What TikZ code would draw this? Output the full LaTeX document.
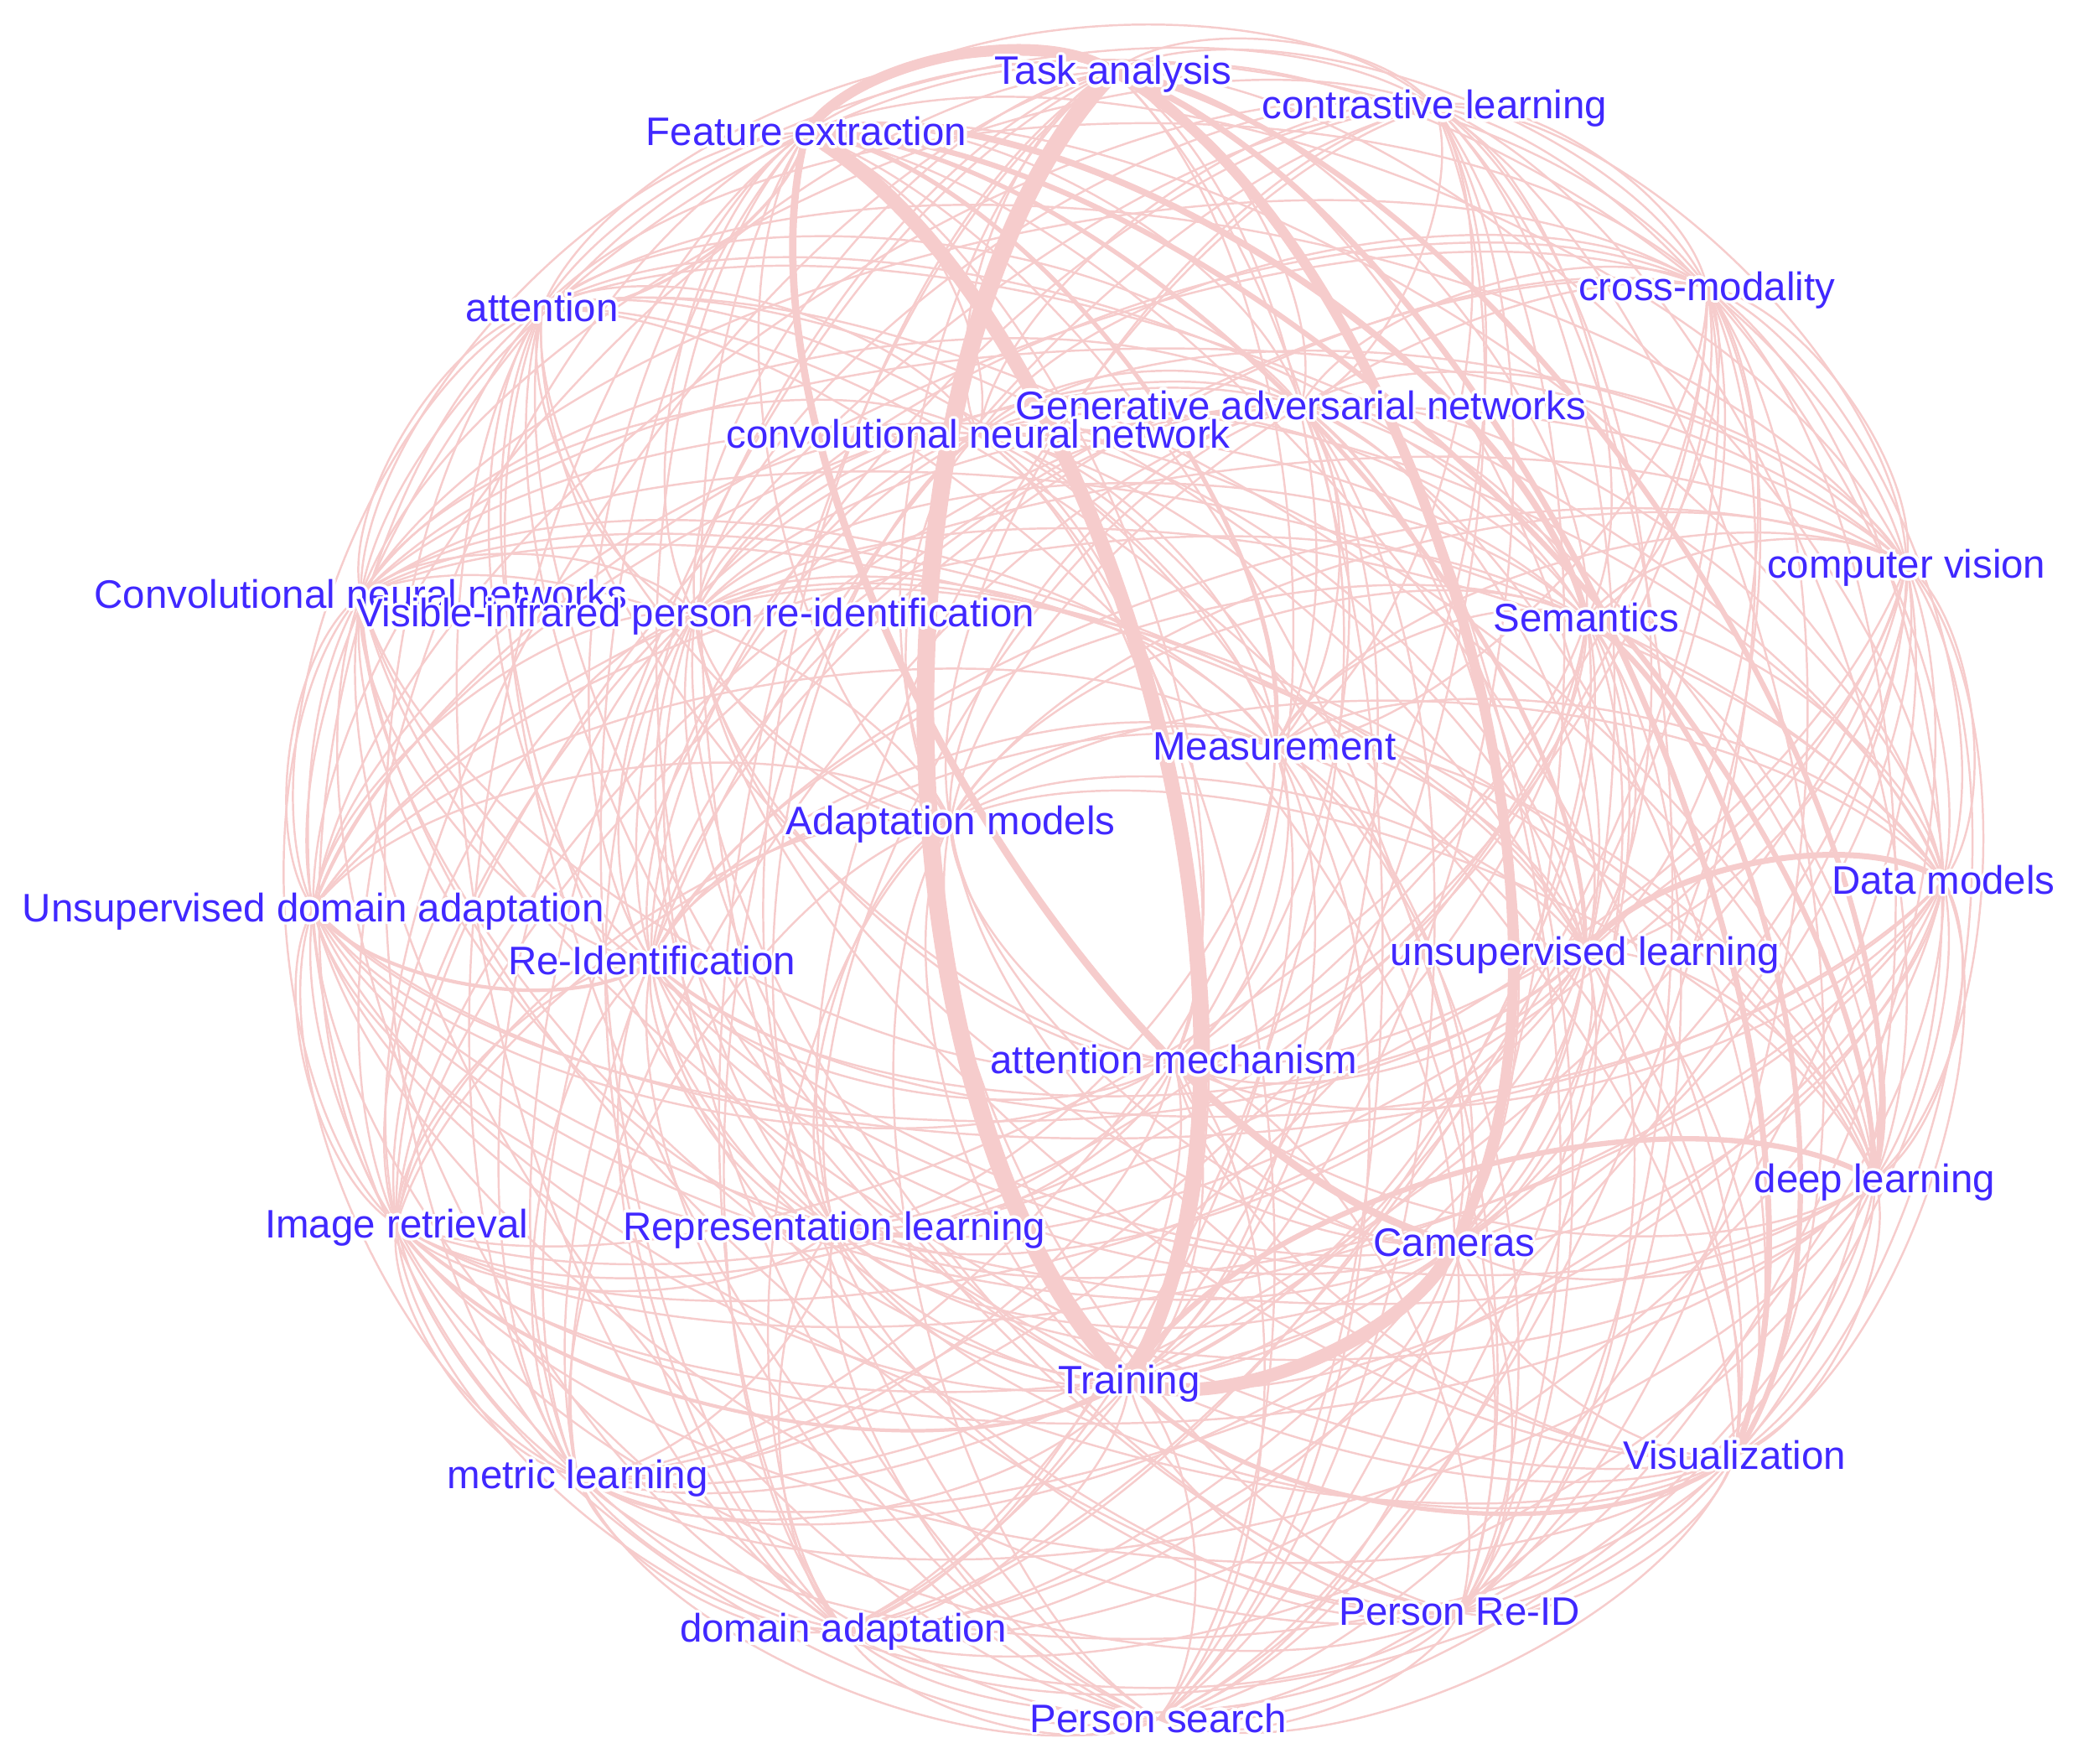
\documentclass[tikz,border=0pt]{standalone}
\usepackage{fontspec}
\setmainfont{Liberation Sans}
\usepackage[copies]{contour}
\contourlength{1pt}
\definecolor{kwblue}{RGB}{64,40,255}
\definecolor{linkpink}{RGB}{246,204,204}
\newcommand{\halo}[1]{\contour{white}{#1}}

\begin{document}
\begin{tikzpicture}[x=0.1577mm, y=-0.1577mm,
        kw/.style={text=kwblue, font=\fontsize{13.5}{16}\selectfont, anchor=base, yshift=-4.5pt, inner sep=0pt},
        link/.style={draw=linkpink, line width=0.7pt, bend left=45, looseness=0.72},
        heavy/.style={link, line width=#1}]
    \useasboundingbox (0,0) rectangle (1568,1334);
    % Keyword positions
    \coordinate (TA) at (842,54);
    \coordinate (CL) at (1085,80);
    \coordinate (FE) at (610,100);
    \coordinate (CM) at (1291,217);
    \coordinate (AT) at (410,233);
    \coordinate (GAN) at (984,307);
    \coordinate (CNN) at (740,329);
    \coordinate (CV) at (1442,427);
    \coordinate (CNNs) at (273,450);
    \coordinate (VI) at (526,464);
    \coordinate (SE) at (1200,468);
    \coordinate (ME) at (964,565);
    \coordinate (AM) at (719,621);
    \coordinate (DM) at (1470,666);
    \coordinate (UDA) at (237,687);
    \coordinate (RI) at (493,727);
    \coordinate (UL) at (1199,720);
    \coordinate (ATM) at (888,802);
    \coordinate (DL) at (1418,892);
    \coordinate (IR) at (300,926);
    \coordinate (RL) at (631,928);
    \coordinate (CA) at (1100,940);
    \coordinate (TR) at (854,1044);
    \coordinate (VZ) at (1312,1101);
    \coordinate (ML) at (437,1116);
    \coordinate (DA) at (638,1232);
    \coordinate (PR) at (1104,1219);
    \coordinate (PS) at (876,1300);
    % Co-occurrence links, each one drawn clockwise
    \foreach \s in {CL,GAN,CM,ME,SE,CV,DM,UL,ATM,PR,PS} \draw[link] (TA) to (\s);
    \foreach \s in {GAN,CM,ME,SE,CV,DM,UL,DL,VZ,CA,ATM,PR,TR,PS,DA} \draw[link] (CL) to (\s);
    \foreach \s in {CM,ME,SE,CV,DM,UL,DL,VZ,CA,ATM,PR,TR,PS,DA} \draw[link] (GAN) to (\s);
    \foreach \s in {ME,SE,CV,DM,UL,DL,VZ,CA,ATM,PR,TR,PS,DA,RL,ML} \draw[link] (CM) to (\s);
    \foreach \s in {SE,CV,DM,UL,DL,VZ,CA,ATM,PR,TR,PS,DA,RL,ML} \draw[link] (ME) to (\s);
    \foreach \s in {CV,DM,UL,DL,CA,ATM,PR,TR,PS,DA,RL,ML,IR} \draw[link] (SE) to (\s);
    \foreach \s in {DM,UL,DL,VZ,CA,ATM,PR,TR,PS,DA,RL,ML,IR} \draw[link] (CV) to (\s);
    \foreach \s in {DL,VZ,CA,ATM,PR,TR,PS,DA,RL,ML,IR,RI,UDA} \draw[link] (DM) to (\s);
    \foreach \s in {DL,VZ,CA,ATM,PR,TR,PS,DA,RL,ML,IR,RI,UDA} \draw[link] (UL) to (\s);
    \foreach \s in {VZ,CA,ATM,PR,PS,DA,RL,ML,IR,RI,UDA} \draw[link] (DL) to (\s);
    \foreach \s in {CA,ATM,PR,PS,DA,RL,ML,IR,RI,UDA,CNNs,AM,VI} \draw[link] (VZ) to (\s);
    \foreach \s in {ATM,PR,PS,DA,RL,ML,IR,RI,UDA,CNNs,AM,VI} \draw[link] (CA) to (\s);
    \foreach \s in {PR,TR,PS,DA,RL,ML,IR,RI,UDA,CNNs,AM,VI,AT} \draw[link] (ATM) to (\s);
    \foreach \s in {TR,PS,DA,RL,ML,IR,RI,UDA,CNNs,AM,VI,AT} \draw[link] (PR) to (\s);
    \foreach \s in {PS,DA,RL,ML,RI,UDA,CNNs,AM,VI,AT} \draw[link] (TR) to (\s);
    \foreach \s in {DA,RL,ML,IR,RI,UDA,CNNs,AM,VI,AT,FE} \draw[link] (PS) to (\s);
    \foreach \s in {RL,ML,IR,RI,UDA,CNNs,AM,VI,AT,FE,CNN,TA} \draw[link] (DA) to (\s);
    \foreach \s in {ML,IR,RI,UDA,CNNs,AM,VI,AT,FE,CNN,TA,CL,GAN} \draw[link] (RL) to (\s);
    \foreach \s in {IR,RI,UDA,CNNs,AM,VI,AT,FE,CNN,TA,CL,GAN} \draw[link] (ML) to (\s);
    \foreach \s in {RI,UDA,CNNs,AM,VI,AT,FE,CNN,TA,CL,GAN,CM,ME} \draw[link] (IR) to (\s);
    \foreach \s in {CNNs,AM,VI,AT,FE,CNN,TA,CL,GAN,CM,ME,SE,CV} \draw[link] (RI) to (\s);
    \foreach \s in {CNNs,AM,VI,AT,FE,CNN,TA,CL,GAN,CM,ME,SE,CV} \draw[link] (UDA) to (\s);
    \foreach \s in {AM,VI,AT,FE,CNN,TA,CL,GAN,CM,ME,SE,CV,DM,UL,DL} \draw[link] (CNNs) to (\s);
    \foreach \s in {VI,AT,FE,CNN,TA,CL,GAN,CM,ME,SE,CV,DM,UL,DL} \draw[link] (AM) to (\s);
    \foreach \s in {AT,FE,CNN,TA,CL,GAN,CM,ME,SE,CV,DM,UL,DL} \draw[link] (VI) to (\s);
    \foreach \s in {CNN,TA,CL,GAN,CM,ME,SE,CV,DM,UL,DL,VZ,CA} \draw[link] (AT) to (\s);
    \foreach \s in {CNN,CL,GAN,CM,CV,DM,VZ,ATM,PR} \draw[link] (FE) to (\s);
    \foreach \s in {TA,CL,GAN,CM,ME,SE,CV,DM,UL,DL,VZ,CA,ATM,PR,TR,PS} \draw[link] (CNN) to (\s);
    % Strong links
    \draw[heavy=6pt] (TR) to (TA);
    \draw[heavy=5pt] (FE) to (TR);
    \draw[heavy=4.5pt] (CA) to (TR);
    \draw[heavy=3.5pt] (TA) to (CA);
    \draw[heavy=3.5pt] (FE) to (TA);
    \draw[heavy=2.5pt] (CA) to (FE);
    \draw[heavy=2.2pt] (FE) to (SE);
    \draw[heavy=2pt] (UL) to (DM);
    \draw[heavy=2pt] (TA) to (VZ);
    \draw[heavy=1.8pt] (SE) to (VZ);
    \draw[heavy=1.8pt] (FE) to (DL);
    \draw[heavy=1.8pt] (TR) to (DL);
    \draw[heavy=1.8pt] (TA) to (DL);
    \draw[heavy=1.5pt] (FE) to (ME);
    \draw[heavy=1.5pt] (FE) to (UL);
    \draw[heavy=1.5pt] (VZ) to (TR);
    \draw[heavy=1.2pt] (TR) to (IR);
    \draw[heavy=1.2pt] (RI) to (UDA);
    \draw[heavy=1pt] (FE) to (AT);
    % Labels
    \node[kw] (TAl) at (TA) {\halo{Task analysis}};
    \node[kw] (CLl) at (CL) {\halo{contrastive learning}};
    \node[kw] (FEl) at (FE) {\halo{Feature extraction}};
    \node[kw] (CMl) at (CM) {\halo{cross-modality}};
    \node[kw] (ATl) at (AT) {\halo{attention}};
    \node[kw] (GANl) at (GAN) {\halo{Generative adversarial networks}};
    \node[kw] (CNNl) at (CNN) {\halo{convolutional neural network}};
    \node[kw] (CVl) at (CV) {\halo{computer vision}};
    \node[kw] (CNNsl) at (CNNs) {\halo{Convolutional neural networks}};
    \node[kw] (VIl) at (VI) {\halo{Visible-infrared person re-identification}};
    \node[kw] (SEl) at (SE) {\halo{Semantics}};
    \node[kw] (MEl) at (ME) {\halo{Measurement}};
    \node[kw] (AMl) at (AM) {\halo{Adaptation models}};
    \node[kw] (DMl) at (DM) {\halo{Data models}};
    \node[kw] (UDAl) at (UDA) {\halo{Unsupervised domain adaptation}};
    \node[kw] (RIl) at (RI) {\halo{Re-Identification}};
    \node[kw] (ULl) at (UL) {\halo{unsupervised learning}};
    \node[kw] (ATMl) at (ATM) {\halo{attention mechanism}};
    \node[kw] (DLl) at (DL) {\halo{deep learning}};
    \node[kw] (IRl) at (IR) {\halo{Image retrieval}};
    \node[kw] (RLl) at (RL) {\halo{Representation learning}};
    \node[kw] (CAl) at (CA) {\halo{Cameras}};
    \node[kw] (TRl) at (TR) {\halo{Training}};
    \node[kw] (VZl) at (VZ) {\halo{Visualization}};
    \node[kw] (MLl) at (ML) {\halo{metric learning}};
    \node[kw] (DAl) at (DA) {\halo{domain adaptation}};
    \node[kw] (PRl) at (PR) {\halo{Person Re-ID}};
    \node[kw] (PSl) at (PS) {\halo{Person search}};
\end{tikzpicture}
\end{document}
